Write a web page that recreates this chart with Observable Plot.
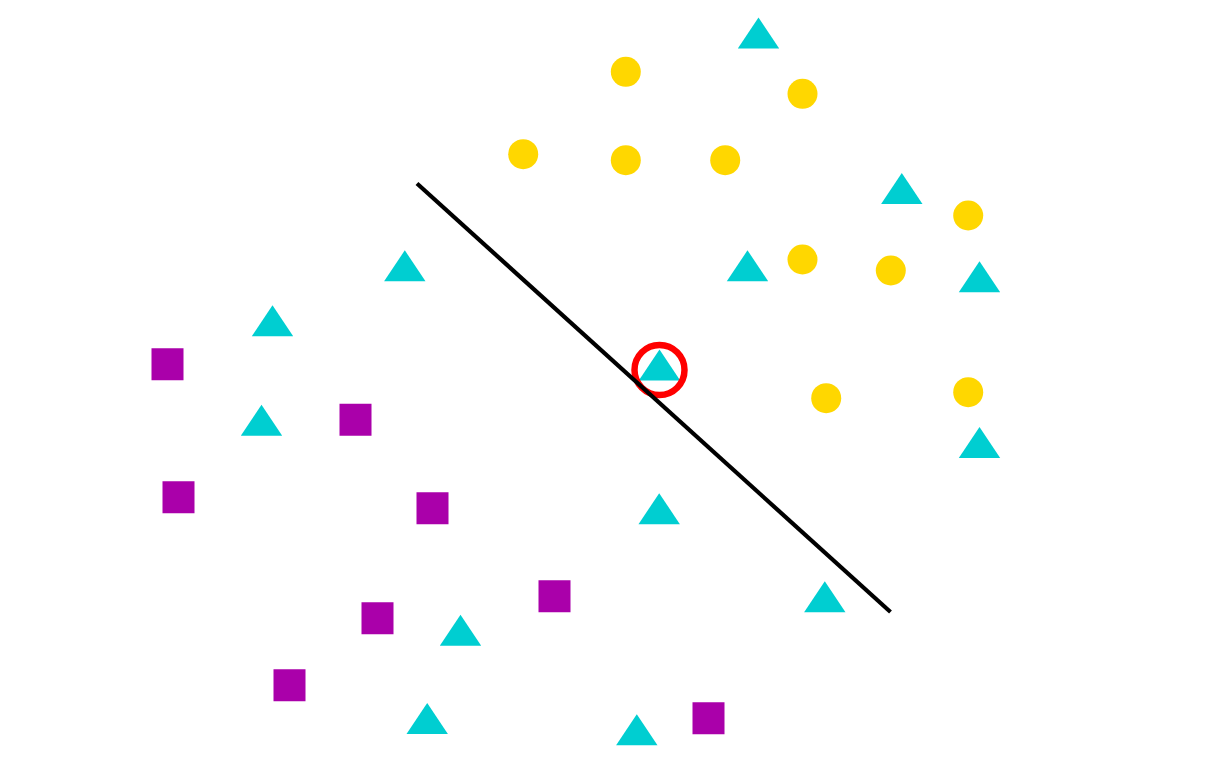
<!DOCTYPE html>
<html>
<head>
<meta charset="utf-8">
<script src="https://cdn.jsdelivr.net/npm/d3@7"></script>
<script src="https://cdn.jsdelivr.net/npm/@observablehq/plot@0.6"></script>
<style>
  html, body { margin: 0; padding: 0; background: #ffffff; overflow: hidden; }
  #chart svg { display: block; }
</style>
</head>
<body>
<div id="chart"></div>
<script>
// Yellow circles (class A)
const circleX = [625.3, 802, 522.7, 625.3, 724.7, 967.7, 802, 890.3, 825.7, 967.7];
const circleY = [71.3, 93.3, 153.7, 159.7, 159.7, 215, 259, 270, 397.7, 391.7];

// Cyan triangles (class B)
const triX = [758, 901.3, 404.3, 747, 979, 272, 659, 261, 979, 658.7, 824.3, 460, 426.7, 636.3];
const triY = [32.5, 188, 265.3, 265.3, 276.3, 320.3, 364.5, 419.7, 442, 508.2, 596.3, 629.7, 718, 729.3];

// Magenta squares (class C)
const sqX = [167, 355, 178, 432, 554, 377, 289, 708];
const sqY = [363.8, 419.3, 496.8, 507.8, 595.8, 617.8, 684.8, 717.8];

// Decision line
const lineX = [416.5, 890];
const lineY = [183, 611.5];

// Highlighted point (red ring)
const ringX = [659];
const ringY = [369.5];

const circles = circleX.map((x, i) => ({x, y: circleY[i]}));
const triangles = triX.map((x, i) => ({x, y: triY[i]}));
const squares = sqX.map((x, i) => ({x, y: sqY[i]}));
const boundary = lineX.map((x, i) => ({x, y: lineY[i]}));
const ring = ringX.map((x, i) => ({x, y: ringY[i]}));

const flatTriangle = {
  draw(context, size) {
    const r = Math.sqrt(size / Math.PI);
    const w = r;
    const h = r * 30.7 / 20.5;
    context.moveTo(0, -h / 2);
    context.lineTo(w, h / 2);
    context.lineTo(-w, h / 2);
    context.closePath();
  }
};
const squareSym = {
  draw(context, size) {
    const r = Math.sqrt(size / Math.PI);
    context.rect(-r, -r, 2 * r, 2 * r);
  }
};

const chart = Plot.plot({
  width: 1221,
  height: 767,
  margin: 0,
  style: {background: "#ffffff"},
  x: {domain: [0, 1221], axis: null},
  y: {domain: [0, 767], reverse: true, axis: null},
  marks: [
    Plot.dot(circles, {x: "x", y: "y", r: 15, fill: "#FFD700", stroke: "none", symbol: "circle"}),
    Plot.dot(squares, {x: "x", y: "y", r: 16, fill: "#AA00AA", stroke: "none", symbol: squareSym}),
    Plot.dot(triangles, {x: "x", y: "y", r: 20.7, fill: "#00CED1", stroke: "none", symbol: flatTriangle}),
    Plot.dot(ring, {x: "x", y: "y", r: 25, fill: "none", stroke: "#FF0000", strokeWidth: 6.5}),
    Plot.line(boundary, {x: "x", y: "y", stroke: "#000000", strokeWidth: 4.2, strokeLinecap: "butt"})
  ]
});
document.getElementById("chart").appendChild(chart);
</script>
</body>
</html>
